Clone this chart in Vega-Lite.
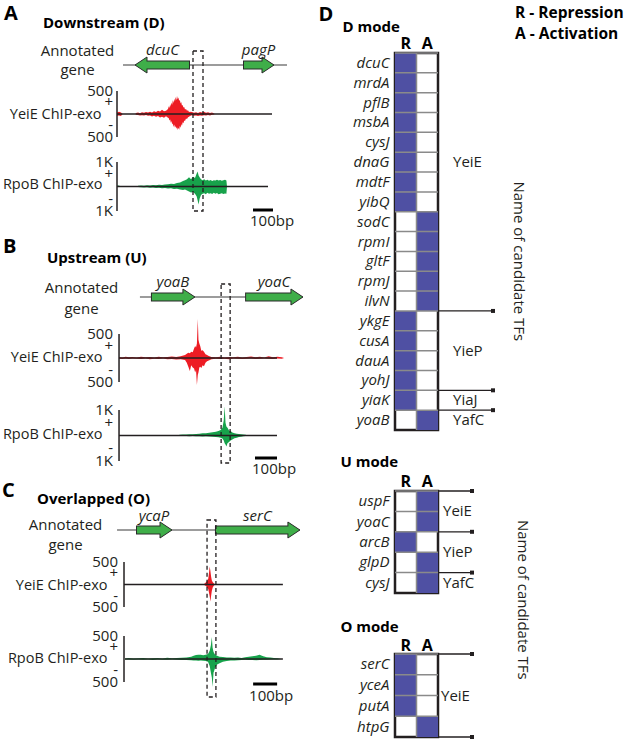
{
"$schema": "https://vega.github.io/schema/vega-lite/v6.json",
"padding": {"left": 0, "top": 2, "right": 0, "bottom": 0},
"background": "white",
"config": {
  "view": {"stroke": null},
  "font": "Open Sans",
  "axis": {"labelFont": "Open Sans", "titleFont": "Open Sans", "labelColor": "#231f20", "titleColor": "#231f20", "grid": false, "labelOverlap": false},
  "text": {"font": "Open Sans", "color": "#231f20"}
},
"datasets": {
  "panels": [
    {"p": "A", "letter": "A", "title": "Downstream (D)"},
    {"p": "B", "letter": "B", "title": "Upstream (U)"},
    {"p": "C", "letter": "C", "title": "Overlapped (O)"}
  ],
  "loci": [
    {"p": "A", "from": 30, "to": 850},
    {"p": "B", "from": 95, "to": 836},
    {"p": "C", "from": -29, "to": 733}
  ],
  "genes": [
    {"p": "A", "gene": "dcuC", "start": 90, "end": 365, "strand": "-"},
    {"p": "A", "gene": "pagP", "start": 630, "end": 785, "strand": "+"},
    {"p": "B", "gene": "yoaB", "start": 145, "end": 345, "strand": "+"},
    {"p": "B", "gene": "yoaC", "start": 573, "end": 836, "strand": "+"},
    {"p": "C", "gene": "ycaP", "start": 50, "end": 200, "strand": "+"},
    {"p": "C", "gene": "serC", "start": 379, "end": 733, "strand": "+"}
  ],
  "boxes": [
    {"p": "A", "from": 380, "to": 430},
    {"p": "B", "from": 464, "to": 505},
    {"p": "C", "from": 346, "to": 383}
  ],
  "bars": [
    {"p": "A", "from": 680, "to": 780, "label": "100bp"},
    {"p": "B", "from": 618, "to": 718, "label": "100bp"},
    {"p": "C", "from": 538, "to": 638, "label": "100bp"}
  ],
  "base": [
    {"p": "A", "t": "Y", "from": 0, "to": 775},
    {"p": "A", "t": "R", "from": 0, "to": 755},
    {"p": "B", "t": "Y", "from": 0, "to": 718},
    {"p": "B", "t": "R", "from": 0, "to": 718},
    {"p": "C", "t": "Y", "from": 0, "to": 662},
    {"p": "C", "t": "R", "from": 4, "to": 662}
  ],
  "ticks": [
    {"p":"A","t":"Y","v":500,"label":"500"},{"p":"A","t":"Y","v":250,"label":"+"},{"p":"A","t":"Y","v":-250,"label":"-"},{"p":"A","t":"Y","v":-500,"label":"500"},
    {"p":"A","t":"R","v":1000,"label":"1K"},{"p":"A","t":"R","v":500,"label":"+"},{"p":"A","t":"R","v":-500,"label":"-"},{"p":"A","t":"R","v":-1000,"label":"1K"},
    {"p":"B","t":"Y","v":500,"label":"500"},{"p":"B","t":"Y","v":250,"label":"+"},{"p":"B","t":"Y","v":-250,"label":"-"},{"p":"B","t":"Y","v":-500,"label":"500"},
    {"p":"B","t":"R","v":1000,"label":"1K"},{"p":"B","t":"R","v":500,"label":"+"},{"p":"B","t":"R","v":-500,"label":"-"},{"p":"B","t":"R","v":-1000,"label":"1K"},
    {"p":"C","t":"Y","v":500,"label":"500"},{"p":"C","t":"Y","v":250,"label":"+"},{"p":"C","t":"Y","v":-250,"label":"-"},{"p":"C","t":"Y","v":-500,"label":"500"},
    {"p":"C","t":"R","v":500,"label":"500"},{"p":"C","t":"R","v":250,"label":"+"},{"p":"C","t":"R","v":-250,"label":"-"},{"p":"C","t":"R","v":-500,"label":"500"}
  ],
  "sig": [
    {"p":"A","t":"Y","bp":0,"up":30,"dn":-40},{"p":"A","t":"Y","bp":10,"up":50,"dn":-30},{"p":"A","t":"Y","bp":20,"up":35,"dn":-45},{"p":"A","t":"Y","bp":28,"up":0,"dn":0},
    {"p":"A","t":"Y","bp":92,"up":0,"dn":0},{"p":"A","t":"Y","bp":95,"up":20,"dn":-15},{"p":"A","t":"Y","bp":105,"up":35,"dn":-20},{"p":"A","t":"Y","bp":115,"up":15,"dn":-30},{"p":"A","t":"Y","bp":125,"up":40,"dn":-25},{"p":"A","t":"Y","bp":135,"up":25,"dn":-35},{"p":"A","t":"Y","bp":145,"up":45,"dn":-20},{"p":"A","t":"Y","bp":155,"up":30,"dn":-40},{"p":"A","t":"Y","bp":165,"up":50,"dn":-30},{"p":"A","t":"Y","bp":175,"up":35,"dn":-55},{"p":"A","t":"Y","bp":185,"up":60,"dn":-40},{"p":"A","t":"Y","bp":195,"up":45,"dn":-60},{"p":"A","t":"Y","bp":205,"up":70,"dn":-45},{"p":"A","t":"Y","bp":215,"up":55,"dn":-75},{"p":"A","t":"Y","bp":225,"up":90,"dn":-60},{"p":"A","t":"Y","bp":235,"up":60,"dn":-80},{"p":"A","t":"Y","bp":245,"up":70,"dn":-50},
    {"p":"A","t":"Y","bp":255,"up":110,"dn":-80},{"p":"A","t":"Y","bp":259,"up":170,"dn":-90},{"p":"A","t":"Y","bp":262,"up":130,"dn":-140},{"p":"A","t":"Y","bp":266,"up":210,"dn":-120},{"p":"A","t":"Y","bp":269,"up":160,"dn":-190},{"p":"A","t":"Y","bp":272,"up":250,"dn":-150},{"p":"A","t":"Y","bp":276,"up":200,"dn":-230},{"p":"A","t":"Y","bp":279,"up":300,"dn":-200},{"p":"A","t":"Y","bp":283,"up":240,"dn":-280},{"p":"A","t":"Y","bp":286,"up":330,"dn":-230},{"p":"A","t":"Y","bp":290,"up":270,"dn":-300},{"p":"A","t":"Y","bp":293,"up":370,"dn":-260},{"p":"A","t":"Y","bp":297,"up":300,"dn":-320},{"p":"A","t":"Y","bp":300,"up":390,"dn":-280},{"p":"A","t":"Y","bp":304,"up":320,"dn":-350},{"p":"A","t":"Y","bp":307,"up":360,"dn":-300},{"p":"A","t":"Y","bp":311,"up":280,"dn":-340},{"p":"A","t":"Y","bp":314,"up":310,"dn":-260},{"p":"A","t":"Y","bp":318,"up":230,"dn":-300},{"p":"A","t":"Y","bp":321,"up":260,"dn":-220},{"p":"A","t":"Y","bp":325,"up":180,"dn":-260},{"p":"A","t":"Y","bp":328,"up":200,"dn":-180},{"p":"A","t":"Y","bp":332,"up":140,"dn":-200},{"p":"A","t":"Y","bp":336,"up":150,"dn":-140},{"p":"A","t":"Y","bp":340,"up":100,"dn":-150},{"p":"A","t":"Y","bp":345,"up":110,"dn":-100},{"p":"A","t":"Y","bp":350,"up":70,"dn":-110},{"p":"A","t":"Y","bp":355,"up":80,"dn":-70},{"p":"A","t":"Y","bp":360,"up":45,"dn":-60},{"p":"A","t":"Y","bp":365,"up":50,"dn":-45},
    {"p":"A","t":"Y","bp":375,"up":45,"dn":-25},{"p":"A","t":"Y","bp":385,"up":25,"dn":-40},{"p":"A","t":"Y","bp":395,"up":40,"dn":-30},{"p":"A","t":"Y","bp":405,"up":20,"dn":-45},{"p":"A","t":"Y","bp":415,"up":45,"dn":-30},{"p":"A","t":"Y","bp":425,"up":30,"dn":-40},{"p":"A","t":"Y","bp":435,"up":50,"dn":-25},{"p":"A","t":"Y","bp":445,"up":25,"dn":-35},{"p":"A","t":"Y","bp":455,"up":40,"dn":-20},{"p":"A","t":"Y","bp":465,"up":20,"dn":-30},{"p":"A","t":"Y","bp":475,"up":30,"dn":-15},{"p":"A","t":"Y","bp":485,"up":10,"dn":-10},{"p":"A","t":"Y","bp":488,"up":0,"dn":0},
    {"p":"A","t":"R","bp":0,"up":30,"dn":-20},{"p":"A","t":"R","bp":8,"up":40,"dn":-25},{"p":"A","t":"R","bp":15,"up":20,"dn":-10},{"p":"A","t":"R","bp":18,"up":0,"dn":0},{"p":"A","t":"R","bp":102,"up":0,"dn":0},{"p":"A","t":"R","bp":105,"up":30,"dn":-20},{"p":"A","t":"R","bp":120,"up":40,"dn":-30},{"p":"A","t":"R","bp":135,"up":35,"dn":-40},{"p":"A","t":"R","bp":150,"up":50,"dn":-30},{"p":"A","t":"R","bp":165,"up":45,"dn":-50},{"p":"A","t":"R","bp":180,"up":60,"dn":-40},{"p":"A","t":"R","bp":195,"up":55,"dn":-60},{"p":"A","t":"R","bp":210,"up":70,"dn":-50},{"p":"A","t":"R","bp":225,"up":60,"dn":-70},{"p":"A","t":"R","bp":240,"up":80,"dn":-60},{"p":"A","t":"R","bp":255,"up":90,"dn":-80},{"p":"A","t":"R","bp":270,"up":110,"dn":-70},{"p":"A","t":"R","bp":285,"up":100,"dn":-100},{"p":"A","t":"R","bp":300,"up":140,"dn":-90},{"p":"A","t":"R","bp":315,"up":160,"dn":-120},{"p":"A","t":"R","bp":330,"up":220,"dn":-140},{"p":"A","t":"R","bp":340,"up":260,"dn":-120},{"p":"A","t":"R","bp":350,"up":300,"dn":-160},{"p":"A","t":"R","bp":360,"up":380,"dn":-200},{"p":"A","t":"R","bp":370,"up":300,"dn":-240},{"p":"A","t":"R","bp":380,"up":400,"dn":-220},{"p":"A","t":"R","bp":390,"up":350,"dn":-300},{"p":"A","t":"R","bp":398,"up":520,"dn":-400},{"p":"A","t":"R","bp":403,"up":610,"dn":-560},{"p":"A","t":"R","bp":408,"up":450,"dn":-735},{"p":"A","t":"R","bp":413,"up":380,"dn":-500},{"p":"A","t":"R","bp":420,"up":300,"dn":-350},{"p":"A","t":"R","bp":428,"up":260,"dn":-300},{"p":"A","t":"R","bp":436,"up":300,"dn":-280},{"p":"A","t":"R","bp":444,"up":240,"dn":-320},{"p":"A","t":"R","bp":452,"up":280,"dn":-260},{"p":"A","t":"R","bp":460,"up":230,"dn":-300},{"p":"A","t":"R","bp":468,"up":270,"dn":-280},{"p":"A","t":"R","bp":476,"up":220,"dn":-310},{"p":"A","t":"R","bp":484,"up":260,"dn":-250},{"p":"A","t":"R","bp":492,"up":240,"dn":-300},{"p":"A","t":"R","bp":500,"up":280,"dn":-270},{"p":"A","t":"R","bp":508,"up":250,"dn":-320},{"p":"A","t":"R","bp":516,"up":270,"dn":-300},{"p":"A","t":"R","bp":524,"up":230,"dn":-280},{"p":"A","t":"R","bp":532,"up":260,"dn":-310},{"p":"A","t":"R","bp":540,"up":280,"dn":-290},{"p":"A","t":"R","bp":547,"up":250,"dn":-300},{"p":"A","t":"R","bp":550,"up":0,"dn":0},
    {"p":"B","t":"Y","bp":0,"up":20,"dn":-15},{"p":"B","t":"Y","bp":15,"up":10,"dn":-20},{"p":"B","t":"Y","bp":30,"up":25,"dn":-10},{"p":"B","t":"Y","bp":45,"up":15,"dn":-20},{"p":"B","t":"Y","bp":60,"up":20,"dn":-10},{"p":"B","t":"Y","bp":80,"up":10,"dn":-15},{"p":"B","t":"Y","bp":100,"up":25,"dn":-20},{"p":"B","t":"Y","bp":120,"up":15,"dn":-10},{"p":"B","t":"Y","bp":140,"up":20,"dn":-25},{"p":"B","t":"Y","bp":160,"up":10,"dn":-15},{"p":"B","t":"Y","bp":180,"up":25,"dn":-20},{"p":"B","t":"Y","bp":200,"up":15,"dn":-10},{"p":"B","t":"Y","bp":220,"up":20,"dn":-25},{"p":"B","t":"Y","bp":240,"up":30,"dn":-20},{"p":"B","t":"Y","bp":260,"up":20,"dn":-30},{"p":"B","t":"Y","bp":280,"up":35,"dn":-25},{"p":"B","t":"Y","bp":300,"up":60,"dn":-40},{"p":"B","t":"Y","bp":308,"up":90,"dn":-100},{"p":"B","t":"Y","bp":315,"up":110,"dn":-180},{"p":"B","t":"Y","bp":322,"up":100,"dn":-270},{"p":"B","t":"Y","bp":328,"up":130,"dn":-150},{"p":"B","t":"Y","bp":335,"up":120,"dn":-200},{"p":"B","t":"Y","bp":341,"up":200,"dn":-220},{"p":"B","t":"Y","bp":346,"up":250,"dn":-300},{"p":"B","t":"Y","bp":350,"up":220,"dn":-250},{"p":"B","t":"Y","bp":354,"up":300,"dn":-560},{"p":"B","t":"Y","bp":358,"up":810,"dn":-350},{"p":"B","t":"Y","bp":361,"up":380,"dn":-300},{"p":"B","t":"Y","bp":365,"up":300,"dn":-200},{"p":"B","t":"Y","bp":369,"up":250,"dn":-180},{"p":"B","t":"Y","bp":374,"up":150,"dn":-210},{"p":"B","t":"Y","bp":380,"up":160,"dn":-150},{"p":"B","t":"Y","bp":386,"up":130,"dn":-170},{"p":"B","t":"Y","bp":393,"up":80,"dn":-100},{"p":"B","t":"Y","bp":400,"up":60,"dn":-70},{"p":"B","t":"Y","bp":408,"up":40,"dn":-50},{"p":"B","t":"Y","bp":420,"up":20,"dn":-25},{"p":"B","t":"Y","bp":440,"up":15,"dn":-15},{"p":"B","t":"Y","bp":460,"up":25,"dn":-20},{"p":"B","t":"Y","bp":480,"up":10,"dn":-15},{"p":"B","t":"Y","bp":500,"up":20,"dn":-25},{"p":"B","t":"Y","bp":520,"up":15,"dn":-10},{"p":"B","t":"Y","bp":540,"up":25,"dn":-15},{"p":"B","t":"Y","bp":560,"up":10,"dn":-20},{"p":"B","t":"Y","bp":580,"up":20,"dn":-15},{"p":"B","t":"Y","bp":600,"up":30,"dn":-10},{"p":"B","t":"Y","bp":620,"up":15,"dn":-20},{"p":"B","t":"Y","bp":640,"up":25,"dn":-15},{"p":"B","t":"Y","bp":660,"up":10,"dn":-10},{"p":"B","t":"Y","bp":680,"up":35,"dn":-15},{"p":"B","t":"Y","bp":700,"up":15,"dn":-20},{"p":"B","t":"Y","bp":720,"up":25,"dn":-10},{"p":"B","t":"Y","bp":740,"up":15,"dn":-15},{"p":"B","t":"Y","bp":750,"up":0,"dn":0},
    {"p":"B","t":"R","bp":268,"up":0,"dn":0},{"p":"B","t":"R","bp":275,"up":30,"dn":-10},{"p":"B","t":"R","bp":290,"up":40,"dn":-20},{"p":"B","t":"R","bp":305,"up":35,"dn":-15},{"p":"B","t":"R","bp":320,"up":50,"dn":-25},{"p":"B","t":"R","bp":335,"up":45,"dn":-20},{"p":"B","t":"R","bp":350,"up":60,"dn":-30},{"p":"B","t":"R","bp":365,"up":70,"dn":-25},{"p":"B","t":"R","bp":380,"up":90,"dn":-35},{"p":"B","t":"R","bp":395,"up":85,"dn":-30},{"p":"B","t":"R","bp":410,"up":110,"dn":-40},{"p":"B","t":"R","bp":425,"up":130,"dn":-45},{"p":"B","t":"R","bp":440,"up":150,"dn":-60},{"p":"B","t":"R","bp":452,"up":180,"dn":-70},{"p":"B","t":"R","bp":462,"up":220,"dn":-90},{"p":"B","t":"R","bp":470,"up":300,"dn":-120},{"p":"B","t":"R","bp":476,"up":600,"dn":-200},{"p":"B","t":"R","bp":480,"up":1150,"dn":-300},{"p":"B","t":"R","bp":484,"up":500,"dn":-350},{"p":"B","t":"R","bp":488,"up":350,"dn":-430},{"p":"B","t":"R","bp":493,"up":300,"dn":-300},{"p":"B","t":"R","bp":500,"up":200,"dn":-250},{"p":"B","t":"R","bp":507,"up":180,"dn":-200},{"p":"B","t":"R","bp":515,"up":120,"dn":-160},{"p":"B","t":"R","bp":525,"up":90,"dn":-110},{"p":"B","t":"R","bp":535,"up":70,"dn":-90},{"p":"B","t":"R","bp":545,"up":60,"dn":-60},{"p":"B","t":"R","bp":555,"up":45,"dn":-45},{"p":"B","t":"R","bp":565,"up":35,"dn":-30},{"p":"B","t":"R","bp":575,"up":30,"dn":-20},{"p":"B","t":"R","bp":586,"up":0,"dn":0},
    {"p":"C","t":"Y","bp":330,"up":0,"dn":0},{"p":"C","t":"Y","bp":338,"up":30,"dn":-20},{"p":"C","t":"Y","bp":343,"up":60,"dn":-40},{"p":"C","t":"Y","bp":347,"up":90,"dn":-70},{"p":"C","t":"Y","bp":351,"up":130,"dn":-100},{"p":"C","t":"Y","bp":354,"up":250,"dn":-180},{"p":"C","t":"Y","bp":357,"up":400,"dn":-260},{"p":"C","t":"Y","bp":360,"up":300,"dn":-380},{"p":"C","t":"Y","bp":363,"up":170,"dn":-250},{"p":"C","t":"Y","bp":366,"up":90,"dn":-140},{"p":"C","t":"Y","bp":370,"up":50,"dn":-60},{"p":"C","t":"Y","bp":375,"up":20,"dn":-20},{"p":"C","t":"Y","bp":380,"up":0,"dn":0},
    {"p":"C","t":"R","bp":4,"up":10,"dn":-10},{"p":"C","t":"R","bp":20,"up":20,"dn":-10},{"p":"C","t":"R","bp":40,"up":10,"dn":-15},{"p":"C","t":"R","bp":60,"up":15,"dn":-10},{"p":"C","t":"R","bp":80,"up":20,"dn":-15},{"p":"C","t":"R","bp":100,"up":10,"dn":-10},{"p":"C","t":"R","bp":120,"up":15,"dn":-20},{"p":"C","t":"R","bp":140,"up":20,"dn":-10},{"p":"C","t":"R","bp":160,"up":10,"dn":-15},{"p":"C","t":"R","bp":180,"up":25,"dn":-15},{"p":"C","t":"R","bp":200,"up":15,"dn":-10},{"p":"C","t":"R","bp":220,"up":20,"dn":-15},{"p":"C","t":"R","bp":240,"up":25,"dn":-20},{"p":"C","t":"R","bp":260,"up":35,"dn":-20},{"p":"C","t":"R","bp":280,"up":50,"dn":-25},{"p":"C","t":"R","bp":290,"up":70,"dn":-30},{"p":"C","t":"R","bp":300,"up":85,"dn":-35},{"p":"C","t":"R","bp":310,"up":90,"dn":-40},{"p":"C","t":"R","bp":320,"up":95,"dn":-30},{"p":"C","t":"R","bp":330,"up":80,"dn":-40},{"p":"C","t":"R","bp":340,"up":90,"dn":-45},{"p":"C","t":"R","bp":350,"up":110,"dn":-60},{"p":"C","t":"R","bp":357,"up":180,"dn":-150},{"p":"C","t":"R","bp":362,"up":300,"dn":-300},{"p":"C","t":"R","bp":366,"up":480,"dn":-400},{"p":"C","t":"R","bp":369,"up":250,"dn":-610},{"p":"C","t":"R","bp":373,"up":150,"dn":-300},{"p":"C","t":"R","bp":379,"up":100,"dn":-200},{"p":"C","t":"R","bp":388,"up":70,"dn":-120},{"p":"C","t":"R","bp":398,"up":50,"dn":-90},{"p":"C","t":"R","bp":412,"up":45,"dn":-60},{"p":"C","t":"R","bp":428,"up":35,"dn":-45},{"p":"C","t":"R","bp":444,"up":30,"dn":-35},{"p":"C","t":"R","bp":460,"up":25,"dn":-30},{"p":"C","t":"R","bp":475,"up":30,"dn":-25},{"p":"C","t":"R","bp":490,"up":20,"dn":-20},{"p":"C","t":"R","bp":505,"up":40,"dn":-15},{"p":"C","t":"R","bp":520,"up":50,"dn":-20},{"p":"C","t":"R","bp":535,"up":60,"dn":-20},{"p":"C","t":"R","bp":550,"up":70,"dn":-25},{"p":"C","t":"R","bp":565,"up":90,"dn":-20},{"p":"C","t":"R","bp":580,"up":60,"dn":-15},{"p":"C","t":"R","bp":595,"up":40,"dn":-15},{"p":"C","t":"R","bp":610,"up":30,"dn":-10},{"p":"C","t":"R","bp":625,"up":20,"dn":-10},{"p":"C","t":"R","bp":640,"up":15,"dn":-10},{"p":"C","t":"R","bp":654,"up":0,"dn":0}
  ],
  "reg": [
    {"m":"D","g":"dcuC","reg":"R"},{"m":"D","g":"mrdA","reg":"R"},{"m":"D","g":"pflB","reg":"R"},{"m":"D","g":"msbA","reg":"R"},{"m":"D","g":"cysJ","reg":"R"},{"m":"D","g":"dnaG","reg":"R"},{"m":"D","g":"mdtF","reg":"R"},{"m":"D","g":"yibQ","reg":"R"},{"m":"D","g":"sodC","reg":"A"},{"m":"D","g":"rpmI","reg":"A"},{"m":"D","g":"gltF","reg":"A"},{"m":"D","g":"rpmJ","reg":"A"},{"m":"D","g":"ilvN","reg":"A"},{"m":"D","g":"ykgE","reg":"R"},{"m":"D","g":"cusA","reg":"R"},{"m":"D","g":"dauA","reg":"R"},{"m":"D","g":"yohJ","reg":"R"},{"m":"D","g":"yiaK","reg":"R"},{"m":"D","g":"yoaB","reg":"A"},
    {"m":"U","g":"uspF","reg":"A"},{"m":"U","g":"yoaC","reg":"A"},{"m":"U","g":"arcB","reg":"R"},{"m":"U","g":"glpD","reg":"A"},{"m":"U","g":"cysJ","reg":"A"},
    {"m":"O","g":"serC","reg":"R"},{"m":"O","g":"yceA","reg":"R"},{"m":"O","g":"putA","reg":"R"},{"m":"O","g":"htpG","reg":"A"}
  ],
  "tfs": [
    {"m":"D","tf":"YeiE","g":"dnaG","at":"mid"},{"m":"D","tf":"YieP","g":"dauA","at":"top"},{"m":"D","tf":"YiaJ","g":"yiaK","at":"mid"},{"m":"D","tf":"YafC","g":"yoaB","at":"mid"},
    {"m":"U","tf":"YeiE","g":"yoaC","at":"top"},{"m":"U","tf":"YieP","g":"glpD","at":"top"},{"m":"U","tf":"YafC","g":"cysJ","at":"mid"},
    {"m":"O","tf":"YeiE","g":"putA","at":"top"}
  ],
  "tflines": [
    {"m":"D","g":"ykgE","at":"top"},{"m":"D","g":"yiaK","at":"top"},{"m":"D","g":"yoaB","at":"top"},
    {"m":"U","g":"uspF","at":"top"},{"m":"U","g":"arcB","at":"top"},{"m":"U","g":"cysJ","at":"top"},
    {"m":"O","g":"serC","at":"top"},{"m":"O","g":"htpG","at":"bottom"}
  ],
  "notes": [
    {"m":"D","text":"Name of candidate TFs","g":"gltF"},
    {"m":"U","text":"Name of candidate TFs","g":"cysJ"}
  ],
  "key": [
    {"k":"R","label":"R - Repression"},
    {"k":"A","label":"A - Activation"}
  ]
},
"hconcat": [
  {
    "vconcat": [
      {
        "width": 310, "height": 12,
        "layer": [
          {"data": {"name": "loci"}, "transform": [{"filter": "datum.p == 'A'"}],
           "mark": {"type": "rule", "color": "#3a3a3a", "strokeWidth": 1.2},
           "encoding": {
             "x": {"field": "from", "type": "quantitative", "scale": {"domain": [-585, 965], "nice": false, "zero": false}, "axis": null},
             "x2": {"field": "to"},
             "y": {"datum": 0, "type": "quantitative", "scale": {"domain": [0, 1], "nice": false, "zero": false},
                   "axis": {"title": ["Annotated", "gene"], "titleAngle": 0, "titleAlign": "center", "titleBaseline": "middle", "titleX": 77, "titleY": -3, "titleFontSize": 15, "titleFontWeight": "normal", "titleLineHeight": 19, "domain": false, "ticks": false, "labels": false, "grid": false}}}},
          {"data": {"name": "genes"}, "transform": [{"filter": "datum.p == 'A' && datum.strand == '+'"}],
           "mark": {"type": "rect", "color": "#2b2b2b", "x2Offset": -11, "yOffset": -4.5, "y2Offset": 4.5},
           "encoding": {"x": {"field": "start", "type": "quantitative", "axis": null}, "x2": {"field": "end"}, "y": {"datum": 0, "type": "quantitative"}, "y2": {"datum": 0}}},
          {"data": {"name": "genes"}, "transform": [{"filter": "datum.p == 'A' && datum.strand == '-'"}],
           "mark": {"type": "rect", "color": "#2b2b2b", "xOffset": 11, "yOffset": -4.5, "y2Offset": 4.5},
           "encoding": {"x": {"field": "start", "type": "quantitative", "axis": null}, "x2": {"field": "end"}, "y": {"datum": 0, "type": "quantitative"}, "y2": {"datum": 0}}},
          {"data": {"name": "genes"}, "transform": [{"filter": "datum.p == 'A' && datum.strand == '+'"}],
           "mark": {"type": "point", "shape": "M -1.5 -1 L 0 0 L -1.5 1 Z", "size": 256, "filled": true, "fill": "#3fae49", "stroke": "#2b2b2b", "strokeWidth": 1, "opacity": 1},
           "encoding": {"x": {"field": "end", "type": "quantitative", "axis": null}, "y": {"datum": 0, "type": "quantitative"}}},
          {"data": {"name": "genes"}, "transform": [{"filter": "datum.p == 'A' && datum.strand == '-'"}],
           "mark": {"type": "point", "shape": "M 1.5 -1 L 0 0 L 1.5 1 Z", "size": 256, "filled": true, "fill": "#3fae49", "stroke": "#2b2b2b", "strokeWidth": 1, "opacity": 1},
           "encoding": {"x": {"field": "start", "type": "quantitative", "axis": null}, "y": {"datum": 0, "type": "quantitative"}}},
          {"data": {"name": "genes"}, "transform": [{"filter": "datum.p == 'A' && datum.strand == '+'"}],
           "mark": {"type": "rect", "color": "#3fae49", "xOffset": 1, "x2Offset": -10, "yOffset": -3.5, "y2Offset": 3.5},
           "encoding": {"x": {"field": "start", "type": "quantitative", "axis": null}, "x2": {"field": "end"}, "y": {"datum": 0, "type": "quantitative"}, "y2": {"datum": 0}}},
          {"data": {"name": "genes"}, "transform": [{"filter": "datum.p == 'A' && datum.strand == '-'"}],
           "mark": {"type": "rect", "color": "#3fae49", "xOffset": 10, "x2Offset": -1, "yOffset": -3.5, "y2Offset": 3.5},
           "encoding": {"x": {"field": "start", "type": "quantitative", "axis": null}, "x2": {"field": "end"}, "y": {"datum": 0, "type": "quantitative"}, "y2": {"datum": 0}}},
          {"data": {"name": "genes"}, "transform": [{"filter": "datum.p == 'A'"}, {"fold": ["start", "end"], "as": ["k", "pos"]}],
           "mark": {"type": "text", "fontStyle": "italic", "fontSize": 15, "dy": -15, "baseline": "middle"},
           "encoding": {"x": {"field": "pos", "type": "quantitative", "aggregate": "mean", "axis": null}, "y": {"datum": 0, "type": "quantitative"}, "text": {"field": "gene"}}},
          {"data": {"name": "panels"}, "transform": [{"filter": "datum.p == 'A'"}],
           "mark": {"type": "text", "align": "left", "baseline": "middle", "fontSize": 20, "fontWeight": "bold", "dx": -113, "dy": -51, "color": "#000000"},
           "encoding": {"x": {"datum": 0, "type": "quantitative", "axis": null}, "y": {"datum": 0, "type": "quantitative"}, "text": {"field": "letter"}}},
          {"data": {"name": "panels"}, "transform": [{"filter": "datum.p == 'A'"}],
           "mark": {"type": "text", "align": "left", "baseline": "middle", "fontSize": 15, "fontWeight": "bold", "dx": -74, "dy": -42, "color": "#000000"},
           "encoding": {"x": {"datum": 0, "type": "quantitative", "axis": null}, "y": {"datum": 0, "type": "quantitative"}, "text": {"field": "title"}}}
        ]
      },
      {
        "width": 310, "height": 84,
        "layer": [
          {"data": {"name": "sig"}, "transform": [{"filter": "datum.p == 'A' && datum.t == 'Y'"}],
           "mark": {"type": "area", "color": "#ed1c24"},
           "encoding": {
             "x": {"field": "bp", "type": "quantitative", "scale": {"domain": [-585, 965], "nice": false, "zero": false}, "axis": null},
             "y": {"field": "up", "type": "quantitative", "scale": {"domain": [-760.9, 1065.2], "nice": false, "zero": false},
                   "axis": {"offset": -117, "domain": false, "ticks": false, "labels": false, "grid": false, "title": "YeiE ChIP-exo", "titleAngle": 0, "titleAlign": "right", "titleBaseline": "middle", "titleX": -16, "titleY": 49, "titleFontSize": 14.5, "titleFontWeight": "normal"}},
             "y2": {"field": "dn"}}},
          {"data": {"name": "base"}, "transform": [{"filter": "datum.p == 'A' && datum.t == 'Y'"}],
           "mark": {"type": "rule", "color": "#231f20", "strokeWidth": 1.5},
           "encoding": {"x": {"datum": 0, "type": "quantitative", "axis": null}, "y": {"datum": -500, "type": "quantitative"}, "y2": {"datum": 500}}},
          {"data": {"name": "base"}, "transform": [{"filter": "datum.p == 'A' && datum.t == 'Y'"}],
           "mark": {"type": "rule", "color": "#231f20", "strokeWidth": 1.3},
           "encoding": {"x": {"field": "from", "type": "quantitative", "axis": null}, "x2": {"field": "to"}, "y": {"datum": 0, "type": "quantitative"}}},
          {"data": {"name": "ticks"}, "transform": [{"filter": "datum.p == 'A' && datum.t == 'Y'"}],
           "mark": {"type": "text", "align": "right", "baseline": "middle", "fontSize": 15, "dx": -4},
           "encoding": {"x": {"datum": 0, "type": "quantitative", "axis": null}, "y": {"field": "v", "type": "quantitative"}, "text": {"field": "label"}}}
        ]
      },
      {
        "width": 310, "height": 62,
        "layer": [
          {"data": {"name": "sig"}, "transform": [{"filter": "datum.p == 'A' && datum.t == 'R'"}],
           "mark": {"type": "area", "color": "#17a24b"},
           "encoding": {
             "x": {"field": "bp", "type": "quantitative", "scale": {"domain": [-585, 965], "nice": false, "zero": false}, "axis": null},
             "y": {"field": "up", "type": "quantitative", "scale": {"domain": [-1000, 1530.6], "nice": false, "zero": false},
                   "axis": {"offset": -117, "domain": false, "ticks": false, "labels": false, "grid": false, "title": "RpoB ChIP-exo", "titleAngle": 0, "titleAlign": "right", "titleBaseline": "middle", "titleX": -15, "titleY": 35, "titleFontSize": 14.5, "titleFontWeight": "normal"}},
             "y2": {"field": "dn"}}},
          {"data": {"name": "base"}, "transform": [{"filter": "datum.p == 'A' && datum.t == 'R'"}],
           "mark": {"type": "rule", "color": "#231f20", "strokeWidth": 1.5},
           "encoding": {"x": {"datum": 0, "type": "quantitative", "axis": null}, "y": {"datum": -1000, "type": "quantitative"}, "y2": {"datum": 1000}}},
          {"data": {"name": "base"}, "transform": [{"filter": "datum.p == 'A' && datum.t == 'R'"}],
           "mark": {"type": "rule", "color": "#231f20", "strokeWidth": 1.3},
           "encoding": {"x": {"field": "from", "type": "quantitative", "axis": null}, "x2": {"field": "to"}, "y": {"datum": 0, "type": "quantitative"}}},
          {"data": {"name": "ticks"}, "transform": [{"filter": "datum.p == 'A' && datum.t == 'R'"}],
           "mark": {"type": "text", "align": "right", "baseline": "middle", "fontSize": 15, "dx": -4},
           "encoding": {"x": {"datum": 0, "type": "quantitative", "axis": null}, "y": {"field": "v", "type": "quantitative"}, "text": {"field": "label"}}},
          {"data": {"name": "boxes"}, "transform": [{"filter": "datum.p == 'A'"}],
           "mark": {"type": "rect", "fillOpacity": 0, "stroke": "#231f20", "strokeWidth": 1.3, "strokeDash": [4, 3], "yOffset": -111, "y2Offset": 0},
           "encoding": {"x": {"field": "from", "type": "quantitative", "axis": null}, "x2": {"field": "to"}, "y": {"datum": 1000, "type": "quantitative"}, "y2": {"datum": -1000}}},
          {"data": {"name": "bars"}, "transform": [{"filter": "datum.p == 'A'"}],
           "mark": {"type": "rule", "color": "#000000", "strokeWidth": 3, "yOffset": -1},
           "encoding": {"x": {"field": "from", "type": "quantitative", "axis": null}, "x2": {"field": "to"}, "y": {"datum": -1000, "type": "quantitative"}}},
          {"data": {"name": "bars"}, "transform": [{"filter": "datum.p == 'A'"}],
           "mark": {"type": "text", "align": "left", "baseline": "middle", "fontSize": 15, "dx": -3, "dy": 10},
           "encoding": {"x": {"field": "from", "type": "quantitative", "axis": null}, "y": {"datum": -1000, "type": "quantitative"}, "text": {"field": "label"}}}
        ]
      },
      {
        "width": 310, "height": 86,
        "layer": [
          {"data": {"name": "loci"}, "transform": [{"filter": "datum.p == 'B'"}],
           "mark": {"type": "rule", "color": "#3a3a3a", "strokeWidth": 1.2},
           "encoding": {
             "x": {"field": "from", "type": "quantitative", "scale": {"domain": [-541, 868], "nice": false, "zero": false}, "axis": null},
             "x2": {"field": "to"},
             "y": {"datum": 0, "type": "quantitative", "scale": {"domain": [0, 1], "nice": false, "zero": false},
                   "axis": {"title": ["Annotated", "gene"], "titleAngle": 0, "titleAlign": "center", "titleBaseline": "middle", "titleX": 81, "titleY": 76, "titleFontSize": 15, "titleFontWeight": "normal", "titleLineHeight": 21, "domain": false, "ticks": false, "labels": false, "grid": false}}}},
          {"data": {"name": "genes"}, "transform": [{"filter": "datum.p == 'B' && datum.strand == '+'"}],
           "mark": {"type": "rect", "color": "#2b2b2b", "x2Offset": -11, "yOffset": -4.5, "y2Offset": 4.5},
           "encoding": {"x": {"field": "start", "type": "quantitative", "axis": null}, "x2": {"field": "end"}, "y": {"datum": 0, "type": "quantitative"}, "y2": {"datum": 0}}},
          {"data": {"name": "genes"}, "transform": [{"filter": "datum.p == 'B' && datum.strand == '+'"}],
           "mark": {"type": "point", "shape": "M -1.5 -1 L 0 0 L -1.5 1 Z", "size": 256, "filled": true, "fill": "#3fae49", "stroke": "#2b2b2b", "strokeWidth": 1, "opacity": 1},
           "encoding": {"x": {"field": "end", "type": "quantitative", "axis": null}, "y": {"datum": 0, "type": "quantitative"}}},
          {"data": {"name": "genes"}, "transform": [{"filter": "datum.p == 'B' && datum.strand == '+'"}],
           "mark": {"type": "rect", "color": "#3fae49", "xOffset": 1, "x2Offset": -10, "yOffset": -3.5, "y2Offset": 3.5},
           "encoding": {"x": {"field": "start", "type": "quantitative", "axis": null}, "x2": {"field": "end"}, "y": {"datum": 0, "type": "quantitative"}, "y2": {"datum": 0}}},
          {"data": {"name": "genes"}, "transform": [{"filter": "datum.p == 'B'"}, {"fold": ["start", "end"], "as": ["k", "pos"]}],
           "mark": {"type": "text", "fontStyle": "italic", "fontSize": 15, "dy": -15, "baseline": "middle"},
           "encoding": {"x": {"field": "pos", "type": "quantitative", "aggregate": "mean", "axis": null}, "y": {"datum": 0, "type": "quantitative"}, "text": {"field": "gene"}}},
          {"data": {"name": "panels"}, "transform": [{"filter": "datum.p == 'B'"}],
           "mark": {"type": "text", "align": "left", "baseline": "middle", "fontSize": 20, "fontWeight": "bold", "dx": -116, "dy": -50, "color": "#000000"},
           "encoding": {"x": {"datum": 0, "type": "quantitative", "axis": null}, "y": {"datum": 0, "type": "quantitative"}, "text": {"field": "letter"}}},
          {"data": {"name": "panels"}, "transform": [{"filter": "datum.p == 'B'"}],
           "mark": {"type": "text", "align": "left", "baseline": "middle", "fontSize": 15, "fontWeight": "bold", "dx": -72, "dy": -39, "color": "#000000"},
           "encoding": {"x": {"datum": 0, "type": "quantitative", "axis": null}, "y": {"datum": 0, "type": "quantitative"}, "text": {"field": "title"}}}
        ]
      },
      {
        "width": 310, "height": 99,
        "layer": [
          {"data": {"name": "sig"}, "transform": [{"filter": "datum.p == 'B' && datum.t == 'Y'"}],
           "mark": {"type": "area", "color": "#ed1c24"},
           "encoding": {
             "x": {"field": "bp", "type": "quantitative", "scale": {"domain": [-541, 868], "nice": false, "zero": false}, "axis": null},
             "y": {"field": "up", "type": "quantitative", "scale": {"domain": [-791.7, 1270.8], "nice": false, "zero": false},
                   "axis": {"offset": -119, "domain": false, "ticks": false, "labels": false, "grid": false, "title": "YeiE ChIP-exo", "titleAngle": 0, "titleAlign": "right", "titleBaseline": "middle", "titleX": -17, "titleY": 60, "titleFontSize": 14.5, "titleFontWeight": "normal"}},
             "y2": {"field": "dn"}}},
          {"data": {"name": "base"}, "transform": [{"filter": "datum.p == 'B' && datum.t == 'Y'"}],
           "mark": {"type": "rule", "color": "#231f20", "strokeWidth": 1.5},
           "encoding": {"x": {"datum": 0, "type": "quantitative", "axis": null}, "y": {"datum": -500, "type": "quantitative"}, "y2": {"datum": 500}}},
          {"data": {"name": "base"}, "transform": [{"filter": "datum.p == 'B' && datum.t == 'Y'"}],
           "mark": {"type": "rule", "color": "#231f20", "strokeWidth": 1.3},
           "encoding": {"x": {"field": "from", "type": "quantitative", "axis": null}, "x2": {"field": "to"}, "y": {"datum": 0, "type": "quantitative"}}},
          {"data": {"name": "ticks"}, "transform": [{"filter": "datum.p == 'B' && datum.t == 'Y'"}],
           "mark": {"type": "text", "align": "right", "baseline": "middle", "fontSize": 15, "dx": -6},
           "encoding": {"x": {"datum": 0, "type": "quantitative", "axis": null}, "y": {"field": "v", "type": "quantitative"}, "text": {"field": "label"}}}
        ]
      },
      {
        "width": 310, "height": 65,
        "layer": [
          {"data": {"name": "sig"}, "transform": [{"filter": "datum.p == 'B' && datum.t == 'R'"}],
           "mark": {"type": "area", "color": "#17a24b"},
           "encoding": {
             "x": {"field": "bp", "type": "quantitative", "scale": {"domain": [-541, 868], "nice": false, "zero": false}, "axis": null},
             "y": {"field": "up", "type": "quantitative", "scale": {"domain": [-1000, 1549], "nice": false, "zero": false},
                   "axis": {"offset": -119, "domain": false, "ticks": false, "labels": false, "grid": false, "title": "RpoB ChIP-exo", "titleAngle": 0, "titleAlign": "right", "titleBaseline": "middle", "titleX": -17, "titleY": 38, "titleFontSize": 14.5, "titleFontWeight": "normal"}},
             "y2": {"field": "dn"}}},
          {"data": {"name": "base"}, "transform": [{"filter": "datum.p == 'B' && datum.t == 'R'"}],
           "mark": {"type": "rule", "color": "#231f20", "strokeWidth": 1.5},
           "encoding": {"x": {"datum": 0, "type": "quantitative", "axis": null}, "y": {"datum": -1000, "type": "quantitative"}, "y2": {"datum": 1000}}},
          {"data": {"name": "base"}, "transform": [{"filter": "datum.p == 'B' && datum.t == 'R'"}],
           "mark": {"type": "rule", "color": "#231f20", "strokeWidth": 1.3},
           "encoding": {"x": {"field": "from", "type": "quantitative", "axis": null}, "x2": {"field": "to"}, "y": {"datum": 0, "type": "quantitative"}}},
          {"data": {"name": "ticks"}, "transform": [{"filter": "datum.p == 'B' && datum.t == 'R'"}],
           "mark": {"type": "text", "align": "right", "baseline": "middle", "fontSize": 15, "dx": -6},
           "encoding": {"x": {"datum": 0, "type": "quantitative", "axis": null}, "y": {"field": "v", "type": "quantitative"}, "text": {"field": "label"}}},
          {"data": {"name": "boxes"}, "transform": [{"filter": "datum.p == 'B'"}],
           "mark": {"type": "rect", "fillOpacity": 0, "stroke": "#231f20", "strokeWidth": 1.3, "strokeDash": [4, 3], "yOffset": -126, "y2Offset": 2},
           "encoding": {"x": {"field": "from", "type": "quantitative", "axis": null}, "x2": {"field": "to"}, "y": {"datum": 1000, "type": "quantitative"}, "y2": {"datum": -1000}}},
          {"data": {"name": "bars"}, "transform": [{"filter": "datum.p == 'B'"}],
           "mark": {"type": "rule", "color": "#000000", "strokeWidth": 3, "yOffset": -3},
           "encoding": {"x": {"field": "from", "type": "quantitative", "axis": null}, "x2": {"field": "to"}, "y": {"datum": -1000, "type": "quantitative"}}},
          {"data": {"name": "bars"}, "transform": [{"filter": "datum.p == 'B'"}],
           "mark": {"type": "text", "align": "left", "baseline": "middle", "fontSize": 15, "dx": -3, "dy": 8},
           "encoding": {"x": {"field": "from", "type": "quantitative", "axis": null}, "y": {"datum": -1000, "type": "quantitative"}, "text": {"field": "label"}}}
        ]
      },
      {
        "width": 310, "height": 69,
        "layer": [
          {"data": {"name": "loci"}, "transform": [{"filter": "datum.p == 'C'"}],
           "mark": {"type": "rule", "color": "#3a3a3a", "strokeWidth": 1.2},
           "encoding": {
             "x": {"field": "from", "type": "quantitative", "scale": {"domain": [-516.7, 775], "nice": false, "zero": false}, "axis": null},
             "x2": {"field": "to"},
             "y": {"datum": 0, "type": "quantitative", "scale": {"domain": [0, 1], "nice": false, "zero": false},
                   "axis": {"title": ["Annotated", "gene"], "titleAngle": 0, "titleAlign": "center", "titleBaseline": "middle", "titleX": 65, "titleY": 63, "titleFontSize": 15, "titleFontWeight": "normal", "titleLineHeight": 20, "domain": false, "ticks": false, "labels": false, "grid": false}}}},
          {"data": {"name": "genes"}, "transform": [{"filter": "datum.p == 'C' && datum.strand == '+'"}],
           "mark": {"type": "rect", "color": "#2b2b2b", "x2Offset": -11, "yOffset": -4.5, "y2Offset": 4.5},
           "encoding": {"x": {"field": "start", "type": "quantitative", "axis": null}, "x2": {"field": "end"}, "y": {"datum": 0, "type": "quantitative"}, "y2": {"datum": 0}}},
          {"data": {"name": "genes"}, "transform": [{"filter": "datum.p == 'C' && datum.strand == '+'"}],
           "mark": {"type": "point", "shape": "M -1.5 -1 L 0 0 L -1.5 1 Z", "size": 256, "filled": true, "fill": "#3fae49", "stroke": "#2b2b2b", "strokeWidth": 1, "opacity": 1},
           "encoding": {"x": {"field": "end", "type": "quantitative", "axis": null}, "y": {"datum": 0, "type": "quantitative"}}},
          {"data": {"name": "genes"}, "transform": [{"filter": "datum.p == 'C' && datum.strand == '+'"}],
           "mark": {"type": "rect", "color": "#3fae49", "xOffset": 1, "x2Offset": -10, "yOffset": -3.5, "y2Offset": 3.5},
           "encoding": {"x": {"field": "start", "type": "quantitative", "axis": null}, "x2": {"field": "end"}, "y": {"datum": 0, "type": "quantitative"}, "y2": {"datum": 0}}},
          {"data": {"name": "genes"}, "transform": [{"filter": "datum.p == 'C'"}, {"fold": ["start", "end"], "as": ["k", "pos"]}],
           "mark": {"type": "text", "fontStyle": "italic", "fontSize": 15, "dy": -14, "baseline": "middle"},
           "encoding": {"x": {"field": "pos", "type": "quantitative", "aggregate": "mean", "axis": null}, "y": {"datum": 0, "type": "quantitative"}, "text": {"field": "gene"}}},
          {"data": {"name": "panels"}, "transform": [{"filter": "datum.p == 'C'"}],
           "mark": {"type": "text", "align": "left", "baseline": "middle", "fontSize": 20, "fontWeight": "bold", "dx": -122, "dy": -39, "color": "#000000"},
           "encoding": {"x": {"datum": 0, "type": "quantitative", "axis": null}, "y": {"datum": 0, "type": "quantitative"}, "text": {"field": "letter"}}},
          {"data": {"name": "panels"}, "transform": [{"filter": "datum.p == 'C'"}],
           "mark": {"type": "text", "align": "left", "baseline": "middle", "fontSize": 15, "fontWeight": "bold", "dx": -87, "dy": -31, "color": "#000000"},
           "encoding": {"x": {"datum": 0, "type": "quantitative", "axis": null}, "y": {"datum": 0, "type": "quantitative"}, "text": {"field": "title"}}}
        ]
      },
      {
        "width": 310, "height": 91,
        "layer": [
          {"data": {"name": "sig"}, "transform": [{"filter": "datum.p == 'C' && datum.t == 'Y'"}],
           "mark": {"type": "area", "color": "#ed1c24"},
           "encoding": {
             "x": {"field": "bp", "type": "quantitative", "scale": {"domain": [-516.7, 775], "nice": false, "zero": false}, "axis": null},
             "y": {"field": "up", "type": "quantitative", "scale": {"domain": [-811.1, 1211.1], "nice": false, "zero": false},
                   "axis": {"offset": -124, "domain": false, "ticks": false, "labels": false, "grid": false, "title": "YeiE ChIP-exo", "titleAngle": 0, "titleAlign": "right", "titleBaseline": "middle", "titleX": -17, "titleY": 55, "titleFontSize": 14.5, "titleFontWeight": "normal"}},
             "y2": {"field": "dn"}}},
          {"data": {"name": "base"}, "transform": [{"filter": "datum.p == 'C' && datum.t == 'Y'"}],
           "mark": {"type": "rule", "color": "#231f20", "strokeWidth": 1.5},
           "encoding": {"x": {"datum": 0, "type": "quantitative", "axis": null}, "y": {"datum": -500, "type": "quantitative"}, "y2": {"datum": 500}}},
          {"data": {"name": "base"}, "transform": [{"filter": "datum.p == 'C' && datum.t == 'Y'"}],
           "mark": {"type": "rule", "color": "#231f20", "strokeWidth": 1.3},
           "encoding": {"x": {"field": "from", "type": "quantitative", "axis": null}, "x2": {"field": "to"}, "y": {"datum": 0, "type": "quantitative"}}},
          {"data": {"name": "ticks"}, "transform": [{"filter": "datum.p == 'C' && datum.t == 'Y'"}],
           "mark": {"type": "text", "align": "right", "baseline": "middle", "fontSize": 15, "dx": -6},
           "encoding": {"x": {"datum": 0, "type": "quantitative", "axis": null}, "y": {"field": "v", "type": "quantitative"}, "text": {"field": "label"}}}
        ]
      },
      {
        "width": 310, "height": 78,
        "layer": [
          {"data": {"name": "sig"}, "transform": [{"filter": "datum.p == 'C' && datum.t == 'R'"}],
           "mark": {"type": "area", "color": "#17a24b"},
           "encoding": {
             "x": {"field": "bp", "type": "quantitative", "scale": {"domain": [-516.7, 775], "nice": false, "zero": false}, "axis": null},
             "y": {"field": "up", "type": "quantitative", "scale": {"domain": [-869.6, 826.1], "nice": false, "zero": false},
                   "axis": {"offset": -124, "domain": false, "ticks": false, "labels": false, "grid": false, "title": "RpoB ChIP-exo", "titleAngle": 0, "titleAlign": "right", "titleBaseline": "middle", "titleX": -17, "titleY": 37, "titleFontSize": 14.5, "titleFontWeight": "normal"}},
             "y2": {"field": "dn"}}},
          {"data": {"name": "base"}, "transform": [{"filter": "datum.p == 'C' && datum.t == 'R'"}],
           "mark": {"type": "rule", "color": "#231f20", "strokeWidth": 1.5},
           "encoding": {"x": {"datum": 0, "type": "quantitative", "axis": null}, "y": {"datum": -500, "type": "quantitative"}, "y2": {"datum": 500}}},
          {"data": {"name": "base"}, "transform": [{"filter": "datum.p == 'C' && datum.t == 'R'"}],
           "mark": {"type": "rule", "color": "#231f20", "strokeWidth": 1.3},
           "encoding": {"x": {"field": "from", "type": "quantitative", "axis": null}, "x2": {"field": "to"}, "y": {"datum": 0, "type": "quantitative"}}},
          {"data": {"name": "ticks"}, "transform": [{"filter": "datum.p == 'C' && datum.t == 'R'"}],
           "mark": {"type": "text", "align": "right", "baseline": "middle", "fontSize": 15, "dx": -6},
           "encoding": {"x": {"datum": 0, "type": "quantitative", "axis": null}, "y": {"field": "v", "type": "quantitative"}, "text": {"field": "label"}}},
          {"data": {"name": "boxes"}, "transform": [{"filter": "datum.p == 'C'"}],
           "mark": {"type": "rect", "fillOpacity": 0, "stroke": "#231f20", "strokeWidth": 1.3, "strokeDash": [4, 3], "yOffset": -116, "y2Offset": 15},
           "encoding": {"x": {"field": "from", "type": "quantitative", "axis": null}, "x2": {"field": "to"}, "y": {"datum": 500, "type": "quantitative"}, "y2": {"datum": -500}}},
          {"data": {"name": "bars"}, "transform": [{"filter": "datum.p == 'C'"}],
           "mark": {"type": "rule", "color": "#000000", "strokeWidth": 3, "yOffset": 2},
           "encoding": {"x": {"field": "from", "type": "quantitative", "axis": null}, "x2": {"field": "to"}, "y": {"datum": -500, "type": "quantitative"}}},
          {"data": {"name": "bars"}, "transform": [{"filter": "datum.p == 'C'"}],
           "mark": {"type": "text", "align": "left", "baseline": "middle", "fontSize": 15, "dx": -4, "dy": 14},
           "encoding": {"x": {"field": "from", "type": "quantitative", "axis": null}, "y": {"datum": -500, "type": "quantitative"}, "text": {"field": "label"}}}
        ]
      }
    ],
    "spacing": 0, "bounds": "flush"
  },
  {
    "vconcat": [
      {
        "width": 43, "height": 377,
        "view": {"stroke": "#231f20", "strokeWidth": 2.5},
        "layer": [
          {"data": {"name": "reg"}, "transform": [{"filter": "datum.m == 'D'"}],
           "mark": {"type": "rect"},
           "encoding": {
             "x": {"field": "reg", "type": "nominal", "scale": {"domain": ["R", "A"], "paddingInner": 0, "paddingOuter": 0},
                   "axis": {"orient": "top", "title": "D mode", "titleX": -53, "titleY": -27, "titleAlign": "left", "titleBaseline": "middle", "titleFontSize": 15, "titleFontWeight": "bold", "titleColor": "#000000", "labelFontWeight": "bold", "labelFontSize": 16, "labelAngle": 0, "labelPadding": 5, "labelBaseline": "alphabetic", "labelColor": "#000000", "ticks": false, "tickSize": 0, "domain": false}},
             "y": {"field": "g", "type": "nominal", "sort": null, "scale": {"domain": ["dcuC","mrdA","pflB","msbA","cysJ","dnaG","mdtF","yibQ","sodC","rpmI","gltF","rpmJ","ilvN","ykgE","cusA","dauA","yohJ","yiaK","yoaB"], "paddingInner": 0, "paddingOuter": 0},
                   "axis": {"title": "D", "titleAngle": 0, "titleX": -77, "titleY": -39, "titleAlign": "left", "titleBaseline": "middle", "titleFontSize": 20, "titleFontWeight": "bold", "titleColor": "#000000", "labelFontStyle": "italic", "labelFontSize": 15, "labelPadding": 6, "ticks": false, "tickSize": 0, "domain": false}},
             "fill": {"field": "reg", "type": "nominal", "scale": {"domain": ["R", "A"], "range": ["#4f50a3", "#4f50a3"]}, "legend": null}
           }},
          {"data": {"name": "reg"}, "transform": [{"filter": "datum.m == 'D'"}],
           "mark": {"type": "rule", "color": "#8a8a8a", "strokeWidth": 1.5},
           "encoding": {"y": {"field": "g", "type": "nominal", "bandPosition": 0}}},
          {"data": {"name": "reg"}, "transform": [{"filter": "datum.m == 'D'"}, {"aggregate": [{"op": "count", "as": "n"}]}],
           "mark": {"type": "rule", "color": "#8a8a8a", "strokeWidth": 1.5},
           "encoding": {"x": {"datum": "A", "type": "nominal", "bandPosition": 0}}},
          {"data": {"name": "tflines"}, "transform": [{"filter": "datum.m == 'D' && datum.at == 'top'"}],
           "mark": {"type": "rule", "color": "#231f20", "strokeWidth": 1.3, "x2Offset": 55},
           "encoding": {"x": {"datum": "A", "type": "nominal", "bandPosition": 1}, "x2": {"datum": "A", "bandPosition": 1}, "y": {"field": "g", "type": "nominal", "bandPosition": 0}}},
          {"data": {"name": "tflines"}, "transform": [{"filter": "datum.m == 'D' && datum.at == 'top'"}],
           "mark": {"type": "point", "shape": "square", "filled": true, "size": 16, "color": "#231f20", "opacity": 1, "xOffset": 55},
           "encoding": {"x": {"datum": "A", "type": "nominal", "bandPosition": 1}, "y": {"field": "g", "type": "nominal", "bandPosition": 0}}},
          {"data": {"name": "tfs"}, "transform": [{"filter": "datum.m == 'D' && datum.at == 'mid'"}],
           "mark": {"type": "text", "align": "left", "baseline": "middle", "fontSize": 15, "dx": 15},
           "encoding": {"x": {"datum": "A", "type": "nominal", "bandPosition": 1}, "y": {"field": "g", "type": "nominal", "bandPosition": 0.5}, "text": {"field": "tf"}}},
          {"data": {"name": "tfs"}, "transform": [{"filter": "datum.m == 'D' && datum.at == 'top'"}],
           "mark": {"type": "text", "align": "left", "baseline": "middle", "fontSize": 15, "dx": 15},
           "encoding": {"x": {"datum": "A", "type": "nominal", "bandPosition": 1}, "y": {"field": "g", "type": "nominal", "bandPosition": 0}, "text": {"field": "tf"}}},
          {"data": {"name": "notes"}, "transform": [{"filter": "datum.m == 'D'"}],
           "mark": {"type": "text", "align": "center", "baseline": "middle", "fontSize": 15, "angle": 90, "xOffset": 81},
           "encoding": {"x": {"datum": "A", "type": "nominal", "bandPosition": 1}, "y": {"field": "g", "type": "nominal"}, "text": {"field": "text"}}},
          {"data": {"name": "key"}, "transform": [{"filter": "datum.k == 'R'"}],
           "mark": {"type": "text", "align": "left", "baseline": "middle", "fontSize": 15.5, "fontWeight": "bold", "dx": 77, "dy": -40, "color": "#000000"},
           "encoding": {"x": {"datum": "A", "type": "nominal", "bandPosition": 1}, "y": {"datum": "dcuC", "type": "nominal", "bandPosition": 0}, "text": {"field": "label"}}},
          {"data": {"name": "key"}, "transform": [{"filter": "datum.k == 'A'"}],
           "mark": {"type": "text", "align": "left", "baseline": "middle", "fontSize": 15.5, "fontWeight": "bold", "dx": 77, "dy": -19, "color": "#000000"},
           "encoding": {"x": {"datum": "A", "type": "nominal", "bandPosition": 1}, "y": {"datum": "dcuC", "type": "nominal", "bandPosition": 0}, "text": {"field": "label"}}}
        ]
      },
      {
        "width": 43, "height": 102,
        "view": {"stroke": "#231f20", "strokeWidth": 2.5},
        "layer": [
          {"data": {"name": "reg"}, "transform": [{"filter": "datum.m == 'U'"}],
           "mark": {"type": "rect"},
           "encoding": {
             "x": {"field": "reg", "type": "nominal", "scale": {"domain": ["R", "A"], "paddingInner": 0, "paddingOuter": 0},
                   "axis": {"orient": "top", "title": "U mode", "titleX": -55, "titleY": -30, "titleAlign": "left", "titleBaseline": "middle", "titleFontSize": 15, "titleFontWeight": "bold", "titleColor": "#000000", "labelFontWeight": "bold", "labelFontSize": 16, "labelAngle": 0, "labelPadding": 5, "labelBaseline": "alphabetic", "labelColor": "#000000", "ticks": false, "tickSize": 0, "domain": false}},
             "y": {"field": "g", "type": "nominal", "sort": null, "scale": {"domain": ["uspF","yoaC","arcB","glpD","cysJ"], "paddingInner": 0, "paddingOuter": 0},
                   "axis": {"title": null, "labelFontStyle": "italic", "labelFontSize": 15, "labelPadding": 6, "ticks": false, "tickSize": 0, "domain": false}},
             "fill": {"field": "reg", "type": "nominal", "scale": {"domain": ["R", "A"], "range": ["#4f50a3", "#4f50a3"]}, "legend": null}
           }},
          {"data": {"name": "reg"}, "transform": [{"filter": "datum.m == 'U'"}],
           "mark": {"type": "rule", "color": "#8a8a8a", "strokeWidth": 1.5},
           "encoding": {"y": {"field": "g", "type": "nominal", "bandPosition": 0}}},
          {"data": {"name": "reg"}, "transform": [{"filter": "datum.m == 'U'"}, {"aggregate": [{"op": "count", "as": "n"}]}],
           "mark": {"type": "rule", "color": "#8a8a8a", "strokeWidth": 1.5},
           "encoding": {"x": {"datum": "A", "type": "nominal", "bandPosition": 0}}},
          {"data": {"name": "tflines"}, "transform": [{"filter": "datum.m == 'U' && datum.at == 'top'"}],
           "mark": {"type": "rule", "color": "#231f20", "strokeWidth": 1.3, "x2Offset": 34},
           "encoding": {"x": {"datum": "A", "type": "nominal", "bandPosition": 1}, "x2": {"datum": "A", "bandPosition": 1}, "y": {"field": "g", "type": "nominal", "bandPosition": 0}}},
          {"data": {"name": "tflines"}, "transform": [{"filter": "datum.m == 'U' && datum.at == 'top'"}],
           "mark": {"type": "point", "shape": "square", "filled": true, "size": 16, "color": "#231f20", "opacity": 1, "xOffset": 34},
           "encoding": {"x": {"datum": "A", "type": "nominal", "bandPosition": 1}, "y": {"field": "g", "type": "nominal", "bandPosition": 0}}},
          {"data": {"name": "tfs"}, "transform": [{"filter": "datum.m == 'U' && datum.at == 'mid'"}],
           "mark": {"type": "text", "align": "left", "baseline": "middle", "fontSize": 15, "dx": 5},
           "encoding": {"x": {"datum": "A", "type": "nominal", "bandPosition": 1}, "y": {"field": "g", "type": "nominal", "bandPosition": 0.5}, "text": {"field": "tf"}}},
          {"data": {"name": "tfs"}, "transform": [{"filter": "datum.m == 'U' && datum.at == 'top'"}],
           "mark": {"type": "text", "align": "left", "baseline": "middle", "fontSize": 15, "dx": 5},
           "encoding": {"x": {"datum": "A", "type": "nominal", "bandPosition": 1}, "y": {"field": "g", "type": "nominal", "bandPosition": 0}, "text": {"field": "tf"}}},
          {"data": {"name": "notes"}, "transform": [{"filter": "datum.m == 'U'"}],
           "mark": {"type": "text", "align": "center", "baseline": "middle", "fontSize": 15, "angle": 90, "xOffset": 85, "yOffset": 17},
           "encoding": {"x": {"datum": "A", "type": "nominal", "bandPosition": 1}, "y": {"field": "g", "type": "nominal"}, "text": {"field": "text"}}}
        ]
      },
      {
        "width": 43, "height": 83,
        "view": {"stroke": "#231f20", "strokeWidth": 2.5},
        "layer": [
          {"data": {"name": "reg"}, "transform": [{"filter": "datum.m == 'O'"}],
           "mark": {"type": "rect"},
           "encoding": {
             "x": {"field": "reg", "type": "nominal", "scale": {"domain": ["R", "A"], "paddingInner": 0, "paddingOuter": 0},
                   "axis": {"orient": "top", "title": "O mode", "titleX": -55, "titleY": -28, "titleAlign": "left", "titleBaseline": "middle", "titleFontSize": 15, "titleFontWeight": "bold", "titleColor": "#000000", "labelFontWeight": "bold", "labelFontSize": 16, "labelAngle": 0, "labelPadding": 4, "labelBaseline": "alphabetic", "labelColor": "#000000", "ticks": false, "tickSize": 0, "domain": false}},
             "y": {"field": "g", "type": "nominal", "sort": null, "scale": {"domain": ["serC","yceA","putA","htpG"], "paddingInner": 0, "paddingOuter": 0},
                   "axis": {"title": null, "labelFontStyle": "italic", "labelFontSize": 15, "labelPadding": 6, "ticks": false, "tickSize": 0, "domain": false}},
             "fill": {"field": "reg", "type": "nominal", "scale": {"domain": ["R", "A"], "range": ["#4f50a3", "#4f50a3"]}, "legend": null}
           }},
          {"data": {"name": "reg"}, "transform": [{"filter": "datum.m == 'O'"}],
           "mark": {"type": "rule", "color": "#8a8a8a", "strokeWidth": 1.5},
           "encoding": {"y": {"field": "g", "type": "nominal", "bandPosition": 0}}},
          {"data": {"name": "reg"}, "transform": [{"filter": "datum.m == 'O'"}, {"aggregate": [{"op": "count", "as": "n"}]}],
           "mark": {"type": "rule", "color": "#8a8a8a", "strokeWidth": 1.5},
           "encoding": {"x": {"datum": "A", "type": "nominal", "bandPosition": 0}}},
          {"data": {"name": "tflines"}, "transform": [{"filter": "datum.m == 'O' && datum.at == 'top'"}],
           "mark": {"type": "rule", "color": "#231f20", "strokeWidth": 1.3, "x2Offset": 34},
           "encoding": {"x": {"datum": "A", "type": "nominal", "bandPosition": 1}, "x2": {"datum": "A", "bandPosition": 1}, "y": {"field": "g", "type": "nominal", "bandPosition": 0}}},
          {"data": {"name": "tflines"}, "transform": [{"filter": "datum.m == 'O' && datum.at == 'top'"}],
           "mark": {"type": "point", "shape": "square", "filled": true, "size": 16, "color": "#231f20", "opacity": 1, "xOffset": 34},
           "encoding": {"x": {"datum": "A", "type": "nominal", "bandPosition": 1}, "y": {"field": "g", "type": "nominal", "bandPosition": 0}}},
          {"data": {"name": "tflines"}, "transform": [{"filter": "datum.m == 'O' && datum.at == 'bottom'"}],
           "mark": {"type": "rule", "color": "#231f20", "strokeWidth": 1.3, "x2Offset": 34},
           "encoding": {"x": {"datum": "A", "type": "nominal", "bandPosition": 1}, "x2": {"datum": "A", "bandPosition": 1}, "y": {"field": "g", "type": "nominal", "bandPosition": 1}}},
          {"data": {"name": "tflines"}, "transform": [{"filter": "datum.m == 'O' && datum.at == 'bottom'"}],
           "mark": {"type": "point", "shape": "square", "filled": true, "size": 16, "color": "#231f20", "opacity": 1, "xOffset": 34},
           "encoding": {"x": {"datum": "A", "type": "nominal", "bandPosition": 1}, "y": {"field": "g", "type": "nominal", "bandPosition": 1}}},
          {"data": {"name": "tfs"}, "transform": [{"filter": "datum.m == 'O' && datum.at == 'top'"}],
           "mark": {"type": "text", "align": "left", "baseline": "middle", "fontSize": 15, "dx": 3},
           "encoding": {"x": {"datum": "A", "type": "nominal", "bandPosition": 1}, "y": {"field": "g", "type": "nominal", "bandPosition": 0}, "text": {"field": "tf"}}}
        ]
      }
    ],
    "spacing": 61, "bounds": "flush"
  }
],
"spacing": 6
}
